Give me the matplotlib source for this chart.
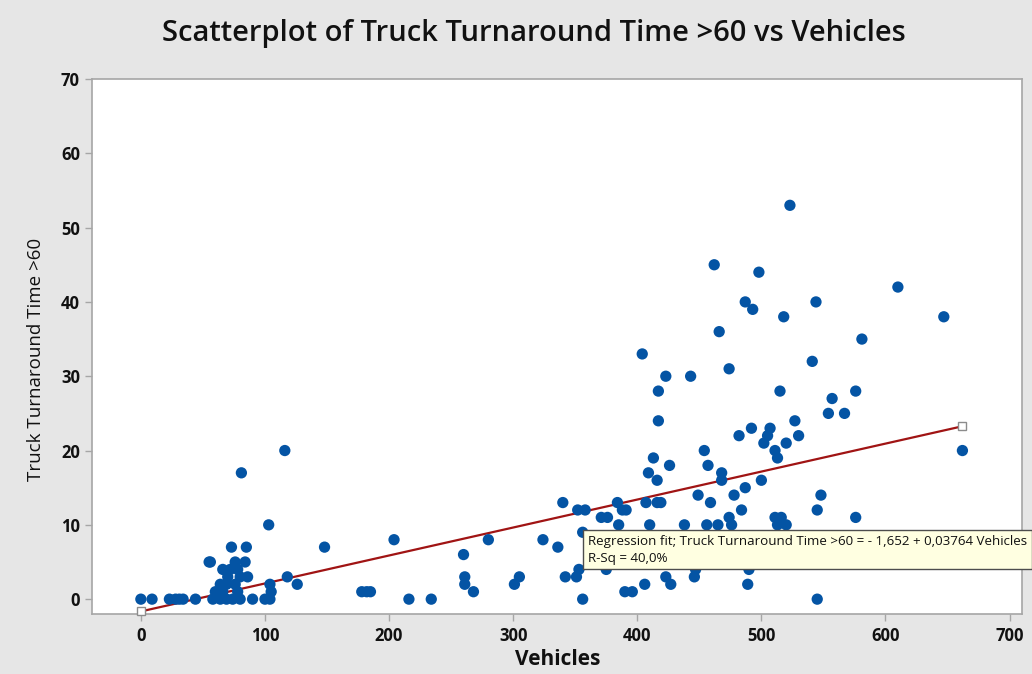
import numpy as np
import matplotlib
matplotlib.use("Agg")
import matplotlib.pyplot as plt

# Values
vehicles = [
    0, 9, 23, 28, 31, 34, 44,
    56, 58, 64, 69, 74, 80, 90,
    60, 66, 78,
    64, 69, 76,
    70, 80, 86,
    66, 72, 78,
    55, 76, 84,
    73, 85, 81,
    100, 104, 104, 105, 103, 116, 118, 126,
    148, 178, 182, 185, 204, 216, 234, 260, 261, 261, 268, 280,
    301, 305, 324, 336, 340, 342, 351, 353, 352, 358, 356, 356,
    371, 376, 375, 384, 385, 388, 391, 390, 396, 406,
    404, 407, 409, 410, 413, 416, 416, 417, 417, 419, 423, 423, 426, 427,
    438, 443, 446, 447, 449, 454, 456, 457, 459, 462, 465, 466, 468, 468,
    474, 474, 476, 478, 482, 484, 487, 487, 489, 490, 492, 493, 498, 500,
    502, 505, 507, 511, 513, 511, 516, 513, 520, 515, 518, 520, 523, 527,
    530, 541, 544, 545, 545, 548, 554, 557, 567, 576, 576, 581, 610, 647,
    662,
]
turnaround_gt60 = [
    0, 0, 0, 0, 0, 0, 0,
    5, 0, 0, 0, 0, 0, 0,
    1, 1, 1,
    2, 2, 2,
    3, 3, 3,
    4, 4, 4,
    5, 5, 5,
    7, 7, 17,
    0, 0, 2, 1, 10, 20, 3, 2,
    7, 1, 1, 1, 8, 0, 0, 6, 3, 2, 1, 8,
    2, 3, 8, 7, 13, 3, 3, 4, 12, 12, 9, 0,
    11, 11, 4, 13, 10, 12, 12, 1, 1, 2,
    33, 13, 17, 10, 19, 16, 13, 28, 24, 13, 30, 3, 18, 2,
    10, 30, 3, 4, 14, 20, 10, 18, 13, 45, 10, 36, 17, 16,
    31, 11, 10, 14, 22, 12, 15, 40, 2, 4, 23, 39, 44, 16,
    21, 22, 23, 20, 19, 11, 11, 10, 10, 28, 38, 21, 53, 24,
    22, 32, 40, 0, 12, 14, 25, 27, 25, 28, 11, 35, 42, 38,
    20,
]

# Fit shown in the reference tooltip
fit_intercept = -1.652
fit_slope = 0.03764
r_sq = 40.0

x_ticks = [0, 100, 200, 300, 400, 500, 600, 700]
y_ticks = [0, 10, 20, 30, 40, 50, 60, 70]

title = "Scatterplot of Truck Turnaround Time >60 vs Vehicles"
x_label = "Vehicles"
y_label = "Truck Turnaround Time >60"

plt.rcParams['font.family'] = ['Open Sans', 'DejaVu Sans']

bg = '#e6e6e6'
frame = '#a6a6a6'
text_col = '#111111'

fig = plt.figure(figsize=(10.32, 6.74), dpi=100, facecolor=bg)
ax = fig.add_axes([0.0896, 0.089, 0.9007, 0.7938])
ax.set_facecolor('white')

ax.scatter(vehicles, turnaround_gt60, s=66, color='#0454a4', edgecolors='none',
           zorder=3)

# regression line over the data range, ends marked by small squares
x_fit = np.array([min(vehicles), max(vehicles)])
y_fit = fit_intercept + fit_slope * x_fit
ax.plot(x_fit, y_fit, color='#a01414', lw=1.6, zorder=2)
ax.plot(x_fit, y_fit, ls='none', marker='s', ms=6, mfc='white', mec='#8c8c8c',
        mew=1, zorder=4, clip_on=False)

ax.set_xlim(-39, 710)
ax.set_ylim(-2.0, 70)
ax.set_xticks(x_ticks)
ax.set_yticks(y_ticks)

for s in ax.spines.values():
    s.set_color(frame)
    s.set_linewidth(1.2)
ax.tick_params(axis='both', direction='out', length=5, width=1, color=frame,
               labelsize=12, labelcolor=text_col, pad=4)
for lab in ax.get_xticklabels() + ax.get_yticklabels():
    lab.set_fontweight('bold')

ax.set_xlabel(x_label, fontsize=15, fontweight='bold', color=text_col,
              labelpad=3)
ax.set_ylabel(y_label, fontsize=13.5, color=text_col)
ax.yaxis.set_label_coords(-0.051, 0.475)

fig.text(0.517, 0.950, title, ha='center', va='center', fontsize=21,
         fontweight='semibold', color=text_col)

tip = ("Regression fit; Truck Turnaround Time >60 = - 1,652 + 0,03764 Vehicles\n"
       "R-Sq = 40,0%")
fig.text(0.5695, 0.1845, tip, ha='left', va='center', fontsize=9.6,
         color=text_col, linespacing=1.4,
         bbox=dict(boxstyle='square,pad=0.35', facecolor='#ffffe1',
                   edgecolor='#4d4d4d', linewidth=1), zorder=10)

fig.savefig('out.png', dpi=100, facecolor=bg)
